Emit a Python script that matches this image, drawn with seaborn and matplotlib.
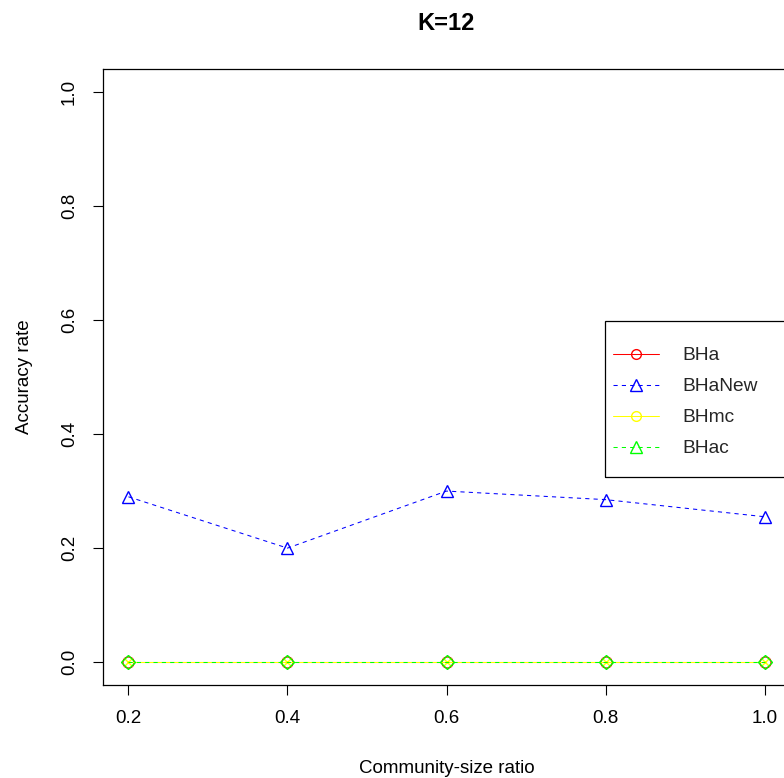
import numpy as np
import pandas as pd
import matplotlib
matplotlib.use("Agg")
import matplotlib.pyplot as plt
import seaborn as sns
from matplotlib.lines import Line2D
from matplotlib.patches import Rectangle

ratio = [0.2, 0.4, 0.6, 0.8, 1.0]
bha = [0.0, 0.0, 0.0, 0.0, 0.0]
bhanew = [0.29, 0.20, 0.30, 0.285, 0.255]
bhmc = [0.0, 0.0, 0.0, 0.0, 0.0]
bhac = [0.0, 0.0, 0.0, 0.0, 0.0]
names = ["BHa", "BHaNew", "BHmc", "BHac"]
colors = ["#FF0000", "#0000FF", "#FFFF00", "#00FF00"]
title = "K=12"
xticks = [0.2, 0.4, 0.6, 0.8, 1.0]
yticks = [0.0, 0.2, 0.4, 0.6, 0.8, 1.0]

sns.set_theme(style="white")
plt.rcParams["font.family"] = ["Liberation Sans", "DejaVu Sans"]

W, H = 784, 778
fig = plt.figure(figsize=(W / 100, H / 100), dpi=100)
ax = fig.add_axes([103 / W, 1 - 685 / H, (790 - 103) / W, (685 - 69) / H])

series = [bha, bhanew, bhmc, bhac]
plot_markers = ["o", "^", "x", "D"]
legend_markers = ["o", "^", "o", "^"]
msizes = [8, 9, 6, 7]
lstyles = ["solid", "dashed", "solid", "dashed"]
for name, vals, col, mk, ms, ls in zip(names, series, colors, plot_markers, msizes, lstyles):
    df = pd.DataFrame({"x": ratio, "y": vals})
    kw = dict(linewidth=0.75, marker=mk, markersize=ms, markerfacecolor="none",
              markeredgecolor=col, markeredgewidth=1.0, color=col)
    if ls == "dashed":
        kw["dashes"] = (4, 4)
    sns.lineplot(data=df, x="x", y="y", ax=ax, **kw)

ax.set_xlim(0.168, 1.032)
ax.set_ylim(-0.04, 1.04)
ax.set_xticks(xticks)
ax.set_xticklabels([f"{v:.1f}" for v in xticks])
ax.set_yticks(yticks)
ax.set_yticklabels([f"{v:.1f}" for v in yticks], rotation=90, va="center")
ax.tick_params(axis="both", which="major", direction="out", length=7, width=0.8,
               color="black", labelsize=13.5, labelcolor="black", bottom=True, left=True)
ax.tick_params(axis="x", pad=11)
ax.tick_params(axis="y", pad=11)
for s in ax.spines.values():
    s.set_visible(True)
    s.set_color("black")
    s.set_linewidth(0.9)
ax.set_xlabel("Community-size ratio", fontsize=13.5, color="black", labelpad=24)
ax.set_ylabel("Accuracy rate", fontsize=13.5, color="black", labelpad=20)
ax.grid(False)
fig.text(446 / W, 1 - 23 / H, title, ha="center", va="center", fontsize=17,
         fontweight="bold", color="black")

handles = []
for col, mk, ms, ls in zip(colors, legend_markers, [7, 9, 7, 9], lstyles):
    h = Line2D([], [], color=col, linewidth=0.75, marker=mk, markersize=ms,
               markerfacecolor="none", markeredgecolor=col, markeredgewidth=1.0,
               linestyle="-" if ls == "solid" else (0, (4, 4)))
    handles.append(h)
fs_leg = 13.8
leg = fig.legend(handles, names, loc="upper left",
                 bbox_to_anchor=(613 / W, 1 - 347 / H), frameon=False,
                 fontsize=fs_leg, handlelength=46 / (fs_leg * 100 / 72),
                 handletextpad=23 / (fs_leg * 100 / 72),
                 labelspacing=0.71, borderpad=0, borderaxespad=0)
rect = Rectangle((605 / W, 1 - 477 / H), (800 - 605) / W, (477 - 321) / H,
                 transform=fig.transFigure, fill=False, edgecolor="black",
                 linewidth=0.9, clip_on=False)
fig.add_artist(rect)

fig.savefig("out.png", dpi=100, facecolor="white")
